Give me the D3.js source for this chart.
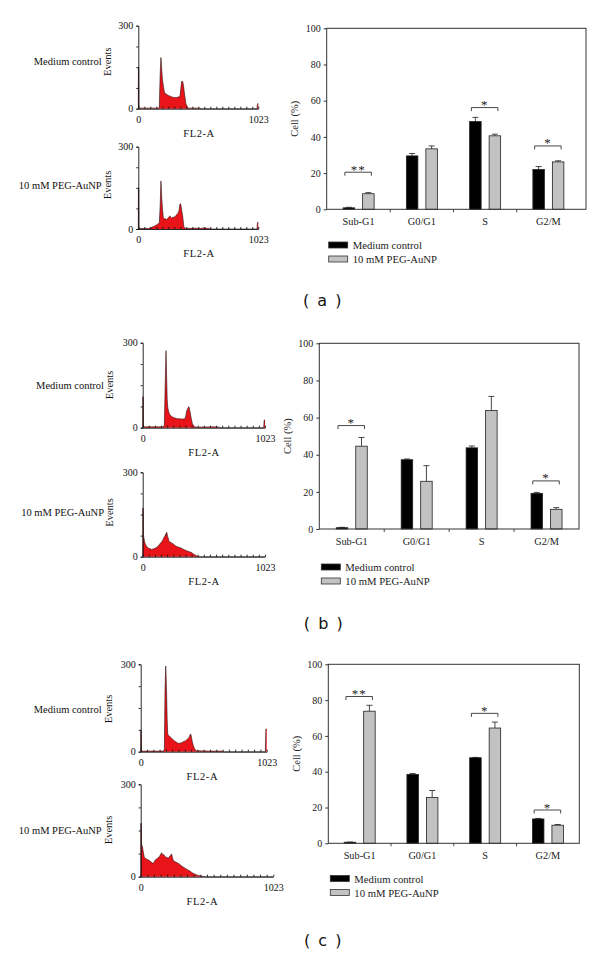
<!DOCTYPE html>
<html><head><meta charset="utf-8">
<script src="https://cdn.jsdelivr.net/npm/d3@7"></script>
<style>body{margin:0;background:#fff}svg{display:block}</style>
</head><body><svg id="fig" width="600" height="958"></svg>
<script>
// ---------- data ----------
const categories = ["Sub-G1", "G0/G1", "S", "G2/M"];
const seriesNames = ["Medium control", "10 mM PEG-AuNP"];
const cellTicks = [0, 20, 40, 60, 80, 100];
const eventTicks = [0, 75, 150, 225, 300];
const eventLabels = [0, 300];
const channelLabels = [0, 1023];
const panelLabels = ["( a )", "( b )", "( c )"];

// panel (a)
const aControl = [0.8, 29.5, 48.5, 22.0];
const aControlErr = [0.3, 1.3, 2.3, 1.6];
const aTreated = [8.6, 33.4, 40.6, 26.2];
const aTreatedErr = [0.6, 1.6, 0.9, 0.6];
const aSig = [["Sub-G1", 20.5, "**"], ["S", 56.2, "*"], ["G2/M", 35.0, "*"]];
// panel (b)
const bControl = [0.7, 37.3, 43.7, 19.2];
const bControlErr = [0.2, 0.4, 1.0, 0.5];
const bTreated = [44.6, 25.7, 63.8, 10.6];
const bTreatedErr = [4.7, 8.4, 7.6, 0.9];
const bSig = [["Sub-G1", 55.7, "*"], ["G2/M", 25.9, "*"]];
// panel (c)
const cControl = [0.6, 38.5, 47.8, 13.6];
const cControlErr = [0.1, 0.5, 0.2, 0.3];
const cTreated = [73.8, 25.6, 64.4, 10.1];
const cTreatedErr = [3.3, 3.9, 3.3, 0.4];
const cSig = [["Sub-G1", 82.0, "**"], ["S", 72.6, "*"], ["G2/M", 18.6, "*"]];

// DNA histograms: [FL2-A channel, events]
const histA1 = [[0,0],[1,150],[4,150],[6,2],[170,2],[179,5],[186,120],[193,185],[200,140],[206,105],[213,85],[220,66],[227,54],[235,55],[242,51],[249,50],[256,47],[263,48],[270,45],[277,44],[284,42],[291,43],[298,40],[306,41],[313,39],[320,41],[327,40],[334,42],[341,42],[348,43],[355,45],[362,70],[369,97],[374,100],[378,99],[385,85],[392,60],[399,38],[406,18],[418,6],[429,2],[520,2],[540,0],[1012,0],[1016,18],[1023,18]];
const histA2 = [[0,0],[1,150],[4,150],[6,2],[90,2],[100,4],[130,9],[156,15],[179,22],[186,80],[193,175],[199,120],[205,79],[213,42],[220,38],[227,36],[235,37],[242,34],[249,38],[256,40],[263,45],[270,48],[277,42],[284,40],[291,43],[298,42],[306,44],[313,45],[320,49],[327,52],[334,55],[341,60],[346,66],[350,75],[355,91],[360,92],[364,85],[371,65],[378,48],[384,25],[389,8],[399,3],[406,2],[500,3],[530,2],[560,4],[600,2],[620,0],[1012,0],[1016,24],[1023,24]];
const histB1 = [[0,0],[1,109],[4,109],[6,3],[175,3],[181,10],[188,150],[195,272],[200,180],[205,100],[209,74],[214,62],[218,55],[223,50],[228,45],[235,43],[242,40],[249,38],[256,36],[263,35],[270,34],[277,33],[284,32],[291,33],[298,31],[305,32],[312,32],[319,31],[326,30],[333,31],[340,31],[347,32],[354,31],[362,45],[368,60],[375,65],[381,72],[387,74],[394,60],[401,45],[408,28],[415,15],[429,4],[450,2],[600,3],[640,2],[660,0],[1012,0],[1016,27],[1023,27]];
const histB2 = [[0,0],[1,172],[4,172],[6,80],[11,65],[16,52],[22,45],[28,40],[33,36],[42,33],[50,30],[62,28],[75,26],[85,27],[95,28],[106,31],[117,33],[128,38],[138,42],[148,48],[159,53],[166,58],[173,64],[180,70],[187,74],[191,80],[195,82],[198,76],[201,87],[205,78],[209,71],[214,66],[218,58],[223,55],[228,50],[235,52],[242,48],[249,47],[256,45],[263,43],[270,40],[277,38],[284,36],[294,35],[305,33],[315,32],[326,30],[336,27],[347,25],[358,23],[368,21],[378,19],[389,18],[400,16],[410,15],[417,12],[424,10],[431,8],[438,6],[452,3],[465,1],[480,0],[1023,0]];
const histC1 = [[0,0],[1,74],[4,74],[6,2],[185,2],[192,8],[197,200],[203,294],[207,250],[211,189],[215,110],[219,63],[223,58],[228,55],[233,53],[238,52],[245,48],[251,46],[258,43],[265,40],[275,37],[285,34],[295,31],[306,29],[316,29],[326,30],[336,32],[346,34],[356,36],[366,38],[376,42],[387,46],[392,49],[396,52],[401,58],[406,61],[412,50],[419,34],[428,20],[436,11],[446,5],[455,3],[560,2],[660,2],[680,0],[1012,0],[1016,78],[1023,78]];
const histC2 = [[0,0],[1,173],[4,173],[6,110],[10,100],[14,97],[20,80],[27,65],[33,61],[40,58],[50,56],[62,54],[71,51],[80,48],[88,45],[97,43],[102,47],[107,50],[112,54],[117,56],[124,58],[130,60],[137,63],[144,65],[149,69],[153,72],[158,75],[162,78],[166,73],[170,70],[177,72],[184,67],[190,65],[197,63],[204,62],[211,60],[218,63],[224,66],[231,70],[238,74],[245,62],[252,52],[262,50],[272,47],[282,45],[292,43],[302,40],[312,36],[322,33],[333,30],[343,27],[353,25],[363,22],[373,20],[384,17],[394,14],[404,11],[414,9],[425,7],[435,5],[445,4],[455,3],[468,2],[482,1],[500,0],[1023,0]];

// ---------- layout ----------
const SERIF = "'Liberation Serif','Times New Roman',serif";
const RED = "#e8141a";
const svg = d3.select("#fig");
svg.append("rect").attr("width", 600).attr("height", 958).attr("fill", "#fff");

function histogram(data, L, sampleName) {
  const x = d3.scaleLinear().domain([0, 1023]).range([L.x0, L.x1]);
  const y = d3.scaleLinear().domain([0, 300]).range([L.y0, L.yTop]);
  const g = svg.append("g");
  g.append("path").datum(data)
    .attr("d", d3.area().x(d => x(d[0])).y0(y(0)).y1(d => y(d[1])))
    .attr("fill", RED);
  g.append("path").datum(data)
    .attr("d", d3.line().x(d => x(d[0])).y(d => y(d[1])))
    .attr("fill", "none").attr("stroke", "#2a1010").attr("stroke-width", 0.6);
  // y axis
  const ya = g.append("g").attr("transform", `translate(${L.x0},0)`)
    .call(d3.axisLeft(y).tickValues(eventTicks).tickSize(2).tickPadding(3)
      .tickFormat(d => eventLabels.includes(d) ? String(d) : ""));
  // x axis with minor ticks
  const minor = d3.range(0, 21).map(i => i * 1023 / 20);
  const xa = g.append("g").attr("transform", `translate(0,${L.y0})`)
    .call(d3.axisBottom(x).tickValues(minor).tickSizeInner(-2).tickSizeOuter(0).tickFormat(""));
  const xl = g.append("g").attr("transform", `translate(0,${L.y0})`)
    .call(d3.axisBottom(x).tickValues(channelLabels).tickSize(0).tickPadding(7).tickFormat(d => String(d)));
  xl.select(".domain").remove();
  [ya, xa, xl].forEach(a => {
    a.selectAll("path,line").attr("stroke", "#111").attr("stroke-width", 0.9);
    a.selectAll("text").attr("font-family", SERIF).attr("font-size", 10).attr("fill", "#111");
  });
  // labels
  g.append("text").attr("x", L.flX).attr("y", L.y0 + 28).attr("text-anchor", "middle")
    .attr("font-family", SERIF).attr("font-size", 10.5).attr("letter-spacing", 0.6).attr("fill", "#111").text("FL2-A");
  g.append("text").attr("transform", `translate(${L.evX},${L.midY}) rotate(-90)`)
    .attr("text-anchor", "middle").attr("dominant-baseline", "central")
    .attr("font-family", SERIF).attr("font-size", 10.5).attr("fill", "#111").text("Events");
  g.append("text").attr("x", L.nameX).attr("y", L.midY).attr("text-anchor", "end")
    .attr("dominant-baseline", "central")
    .attr("font-family", SERIF).attr("font-size", 10.5).attr("fill", "#111").text(sampleName);
}

function barPanel(P) {
  const x = d3.scaleBand().domain(categories).range(P.band);
  const xs = d3.scaleBand().domain(seriesNames).range([-15.5, 15.5]).paddingInner(0.41);
  const y = d3.scaleLinear().domain([0, 100]).range([P.bottom, P.top]);
  const g = svg.append("g");
  const cx = c => x(c) + x.bandwidth() / 2;
  const series = [
    {name: seriesNames[0], vals: P.control, errs: P.controlErr, fill: "#000"},
    {name: seriesNames[1], vals: P.treated, errs: P.treatedErr, fill: "#c2c2c2"}
  ];
  // error bars (upper only)
  series.forEach(s => {
    categories.forEach((c, i) => {
      const bx = cx(c) + xs(s.name) + xs.bandwidth() / 2;
      const top = y(s.vals[i] + s.errs[i]);
      g.append("line").attr("x1", bx).attr("x2", bx).attr("y1", y(s.vals[i])).attr("y2", top)
        .attr("stroke", "#333").attr("stroke-width", 0.9);
      g.append("line").attr("x1", bx - 3).attr("x2", bx + 3).attr("y1", top).attr("y2", top)
        .attr("stroke", "#333").attr("stroke-width", 0.9);
    });
  });
  // bars
  series.forEach(s => {
    g.selectAll(null).data(categories).enter().append("rect")
      .attr("x", c => cx(c) + xs(s.name))
      .attr("width", xs.bandwidth())
      .attr("y", (c, i) => y(s.vals[i]))
      .attr("height", (c, i) => y(0) - y(s.vals[i]))
      .attr("fill", s.fill).attr("stroke", "#222").attr("stroke-width", 0.8);
  });
  // frame
  g.append("rect").attr("x", P.left).attr("y", P.top).attr("width", P.right - P.left)
    .attr("height", P.bottom - P.top).attr("fill", "none").attr("stroke", "#333").attr("stroke-width", 1);
  // y axis
  const ya = g.append("g").attr("transform", `translate(${P.left},0)`)
    .call(d3.axisLeft(y).tickValues(cellTicks).tickSize(3).tickPadding(3));
  ya.select(".domain").remove();
  ya.selectAll("line").attr("stroke", "#333");
  ya.selectAll("text").attr("font-family", SERIF).attr("font-size", 10).attr("fill", "#222");
  // x separators
  const seps = categories.slice(1).map(c => x(c));
  g.selectAll(null).data(seps).enter().append("line")
    .attr("x1", d => d).attr("x2", d => d).attr("y1", P.bottom).attr("y2", P.bottom + 3)
    .attr("stroke", "#333").attr("stroke-width", 0.9);
  // category labels
  g.selectAll(null).data(categories).enter().append("text")
    .attr("x", c => cx(c)).attr("y", P.bottom + 12.5).attr("text-anchor", "middle")
    .attr("dominant-baseline", "central")
    .attr("font-family", SERIF).attr("font-size", 10.3).attr("fill", "#222").text(c => c);
  // y label
  g.append("text").attr("transform", `translate(${P.left - 32},${(P.top + P.bottom) / 2}) rotate(-90)`)
    .attr("text-anchor", "middle").attr("dominant-baseline", "central")
    .attr("font-family", SERIF).attr("font-size", 10.5).attr("fill", "#222").text("Cell (%)");
  // significance brackets
  P.sig.forEach(([c, lvl, stars]) => {
    const x1 = cx(c) + xs(seriesNames[0]) + xs.bandwidth() / 2 - 4;
    const x2 = cx(c) + xs(seriesNames[1]) + xs.bandwidth() / 2 + 3;
    const yy = y(lvl);
    g.append("path").attr("d", `M${x1},${yy + 3.5}V${yy}H${x2}V${yy + 3.5}`)
      .attr("fill", "none").attr("stroke", "#333").attr("stroke-width", 0.9);
    g.append("text").attr("x", (x1 + x2) / 2).attr("y", yy + 1.5).attr("text-anchor", "middle")
      .attr("font-family", SERIF).attr("font-size", 13).attr("letter-spacing", 1).attr("fill", "#222").text(stars);
  });
  // legend
  series.forEach((s, i) => {
    const ly = P.legendY + i * 14;
    g.append("rect").attr("x", P.left + 2).attr("y", ly - 3).attr("width", 19).attr("height", 6)
      .attr("fill", s.fill).attr("stroke", "#333").attr("stroke-width", 0.8);
    g.append("text").attr("x", P.left + 26).attr("y", ly).attr("dominant-baseline", "central")
      .attr("font-family", SERIF).attr("font-size", 10.7).attr("fill", "#222").text(s.name);
  });
  // panel label
  svg.append("text").attr("x", P.labelX).attr("y", P.labelY).attr("text-anchor", "middle")
    .attr("dominant-baseline", "central")
    .attr("font-family", "'DejaVu Sans',sans-serif").attr("font-size", 16).attr("letter-spacing", 1.5)
    .attr("fill", "#111").text(P.label);
}

// histograms
histogram(histA1, {x0: 138.3, x1: 258.3, yTop: 25.7, y0: 108.7, flX: 199, evX: 107.7, nameX: 101.7, midY: 61.7}, seriesNames[0]);
histogram(histA2, {x0: 138.3, x1: 258.3, yTop: 146.7, y0: 229, flX: 199, evX: 107.7, nameX: 101.7, midY: 185}, seriesNames[1]);
histogram(histB1, {x0: 142.7, x1: 265, yTop: 342.7, y0: 427.7, flX: 204, evX: 109.3, nameX: 104, midY: 385}, seriesNames[0]);
histogram(histB2, {x0: 142.7, x1: 265, yTop: 472.3, y0: 556.7, flX: 204, evX: 109.3, nameX: 104, midY: 512.5}, seriesNames[1]);
histogram(histC1, {x0: 140.7, x1: 266.7, yTop: 664.3, y0: 751.7, flX: 202.3, evX: 108.3, nameX: 101.7, midY: 709}, seriesNames[0]);
histogram(histC2, {x0: 140.7, x1: 273.3, yTop: 784.3, y0: 876.7, flX: 202.3, evX: 108.3, nameX: 101.7, midY: 830}, seriesNames[1]);

// bar panels
barPanel({left: 326.7, right: 586, top: 28.3, bottom: 209.3, band: [327, 580],
  control: aControl, controlErr: aControlErr, treated: aTreated, treatedErr: aTreatedErr, sig: aSig,
  legendY: 245, label: panelLabels[0], labelX: 323, labelY: 300.7});
barPanel({left: 319.3, right: 579, top: 343.3, bottom: 529, band: [319.3, 579],
  control: bControl, controlErr: bControlErr, treated: bTreated, treatedErr: bTreatedErr, sig: bSig,
  legendY: 567, label: panelLabels[1], labelX: 324, labelY: 623.3});
barPanel({left: 328.3, right: 579.3, top: 664.3, bottom: 843.3, band: [328.3, 579.3],
  control: cControl, controlErr: cControlErr, treated: cTreated, treatedErr: cTreatedErr, sig: cSig,
  legendY: 878.5, label: panelLabels[2], labelX: 323.5, labelY: 940});
</script></body></html>
